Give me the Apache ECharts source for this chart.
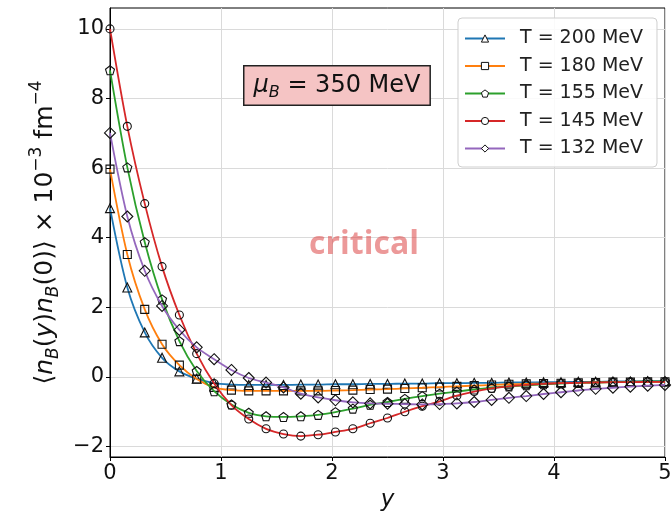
<!DOCTYPE html>
<html><head><meta charset="utf-8">
<script src="https://cdn.jsdelivr.net/npm/echarts@6/dist/echarts.min.js"></script>
<style>html,body{margin:0;padding:0;background:#fff}#c{width:672px;height:512px}</style>
</head><body><div id="c"></div>
<script>
// rapidity positions y
const yPos = [0, 0.156, 0.313, 0.469, 0.625, 0.781, 0.938, 1.094, 1.25, 1.406, 1.563, 1.719, 1.875, 2.031, 2.188, 2.344, 2.5, 2.656, 2.813, 2.969, 3.125, 3.281, 3.438, 3.594, 3.75, 3.906, 4.063, 4.219, 4.375, 4.531, 4.688, 4.844, 5.0];
const seriesNames = ['T = 200 MeV', 'T = 180 MeV', 'T = 155 MeV', 'T = 145 MeV', 'T = 132 MeV'];
const t200 = [4.85, 2.57, 1.28, 0.55, 0.16, -0.05, -0.18, -0.22, -0.23, -0.23, -0.23, -0.22, -0.22, -0.21, -0.21, -0.2, -0.2, -0.19, -0.19, -0.18, -0.18, -0.17, -0.17, -0.16, -0.16, -0.15, -0.15, -0.14, -0.14, -0.13, -0.13, -0.12, -0.12];
const t180 = [5.97, 3.52, 1.94, 0.94, 0.34, -0.06, -0.3, -0.38, -0.4, -0.4, -0.4, -0.4, -0.4, -0.39, -0.38, -0.36, -0.35, -0.33, -0.31, -0.29, -0.27, -0.25, -0.23, -0.21, -0.2, -0.19, -0.18, -0.17, -0.16, -0.15, -0.15, -0.14, -0.14];
const t155 = [8.81, 6.02, 3.87, 2.23, 1.03, 0.17, -0.41, -0.79, -1.03, -1.13, -1.15, -1.13, -1.09, -1.01, -0.91, -0.8, -0.72, -0.63, -0.55, -0.48, -0.42, -0.36, -0.31, -0.27, -0.24, -0.21, -0.19, -0.17, -0.16, -0.15, -0.14, -0.13, -0.13];
const t145 = [10.0, 7.2, 4.98, 3.17, 1.78, 0.67, -0.19, -0.81, -1.21, -1.49, -1.64, -1.7, -1.66, -1.58, -1.49, -1.33, -1.18, -1.0, -0.84, -0.7, -0.54, -0.42, -0.33, -0.27, -0.23, -0.2, -0.18, -0.17, -0.16, -0.15, -0.15, -0.14, -0.14];
const t132 = [7.01, 4.61, 3.05, 2.04, 1.35, 0.85, 0.51, 0.2, -0.03, -0.16, -0.3, -0.48, -0.59, -0.67, -0.73, -0.76, -0.77, -0.78, -0.79, -0.78, -0.76, -0.72, -0.66, -0.6, -0.55, -0.49, -0.44, -0.39, -0.34, -0.31, -0.28, -0.25, -0.23];
const yTicks = [-2, 0, 2, 4, 6, 8, 10];
const xTicks = [0, 1, 2, 3, 4, 5];

const FONT = 'DejaVu Sans';
const colors = ['#1f77b4', '#ff7f0e', '#2ca02c', '#d62728', '#9467bd'];
const pentagon = 'path://M0,-1 L0.951,-0.309 L0.588,0.809 L-0.588,0.809 L-0.951,-0.309 Z';
const symbols = ['triangle', 'rect', pentagon, 'circle', 'diamond'];
const sizes = [9, 8, 9, 8, 11];
const allVals = [t200, t180, t155, t145, t132];

const chart = echarts.init(document.getElementById('c'), null, {renderer: 'canvas'});
const series = allVals.map((vals, i) => ({
  name: seriesNames[i],
  type: 'line',
  data: yPos.map((x, k) => [x, vals[k]]),
  smooth: 0.3,
  symbol: symbols[i],
  symbolSize: sizes[i],
  showAllSymbol: true,
  lineStyle: {color: colors[i], width: 1.8},
  itemStyle: {color: 'rgba(255,255,255,0)', borderColor: '#111', borderWidth: 1.1},
  emphasis: {disabled: true},
  clip: true,
  z: 3 + i
}));

const minusFmt = v => String(v).replace('-', '\u2212');

chart.setOption({
  animation: false,
  backgroundColor: '#fff',
  grid: {left: 110, right: 7, top: 8, bottom: 55, outerBoundsMode: 'none', containLabel: false,
         show: true, borderColor: '#000', borderWidth: 1, backgroundColor: 'transparent'},
  xAxis: {
    type: 'value', min: 0, max: 5, interval: 1,
    name: 'y', nameLocation: 'middle', nameGap: 30,
    nameTextStyle: {fontFamily: FONT, fontSize: 23, fontStyle: 'italic', color: '#111'},
    axisLine: {show: true, onZero: false, lineStyle: {color: '#000', width: 1}},
    axisTick: {show: true, length: 4, lineStyle: {color: '#000'}},
    axisLabel: {fontFamily: FONT, fontSize: 21, color: '#111', margin: 6, formatter: minusFmt},
    splitLine: {show: true, lineStyle: {color: '#dadada', width: 1}}
  },
  yAxis: {
    type: 'value', min: -2.3, max: 10.6,
    name: '{a|\u27e8}{i|n}{sb|B}{a|(}{i|y}{a|)}{i|n}{sb|B}{a|(0)\u27e9 \u00d7 10}{sp|\u22123}{a| fm}{sp|\u22124}',
    nameLocation: 'middle', nameRotate: 90, nameGap: 48,
    nameTextStyle: {
      fontFamily: FONT, fontSize: 25, color: '#111',
      rich: {
        a: {fontFamily: FONT, fontSize: 25, lineHeight: 34, verticalAlign: 'middle', color: '#111'},
        i: {fontFamily: FONT, fontSize: 25, fontStyle: 'italic', lineHeight: 34, verticalAlign: 'middle', color: '#111'},
        sb: {fontFamily: FONT, fontSize: 17, fontStyle: 'italic', lineHeight: 16, verticalAlign: 'bottom', color: '#111'},
        sp: {fontFamily: FONT, fontSize: 17, lineHeight: 16, verticalAlign: 'top', color: '#111'}
      }
    },
    axisLine: {show: true, lineStyle: {color: '#000', width: 1}},
    axisTick: {show: true, length: 4, customValues: yTicks, lineStyle: {color: '#000'}},
    axisLabel: {fontFamily: FONT, fontSize: 21, color: '#111', margin: 6, customValues: yTicks, formatter: minusFmt},
    splitLine: {show: true, lineStyle: {color: '#dadada', width: 1}}
  },
  legend: {
    orient: 'vertical', left: 458, top: 18,
    padding: [11, 14, 9, 6], itemGap: 8.5, itemWidth: 40, itemHeight: 9,
    backgroundColor: 'rgba(255,255,255,0.85)', borderColor: '#cfcfcf', borderWidth: 1, borderRadius: 4,
    itemStyle: {color: '#fff', borderColor: '#111', borderWidth: 1},
    textStyle: {fontFamily: FONT, fontSize: 19, color: '#222', padding: [0, 0, 0, 10]},
    data: seriesNames
  },
  graphic: [
    {
      type: 'text', left: 243, top: 65, z: 10,
      style: {
        text: '{m|\u03bc}{s|B}{n| = 350 MeV}',
        backgroundColor: '#f5c4c4', borderColor: '#222', borderWidth: 1.5,
        padding: [4, 9, 4, 9],
        rich: {
          m: {fontFamily: FONT, fontSize: 24, fontStyle: 'italic', lineHeight: 30, verticalAlign: 'middle', fill: '#111'},
          s: {fontFamily: FONT, fontSize: 16, fontStyle: 'italic', lineHeight: 14, verticalAlign: 'bottom', fill: '#111'},
          n: {fontFamily: FONT, fontSize: 24, lineHeight: 30, verticalAlign: 'middle', fill: '#111'}
        }
      }
    },
    {
      type: 'text', x: 364, y: 245, z: 1,
      style: {text: 'critical', fontFamily: 'Open Sans', fontWeight: 'bold', fontSize: 32,
              align: 'center', verticalAlign: 'middle', fill: 'rgba(220,70,70,0.55)'}
    }
  ],
  series: series
});
</script>
</body></html>
